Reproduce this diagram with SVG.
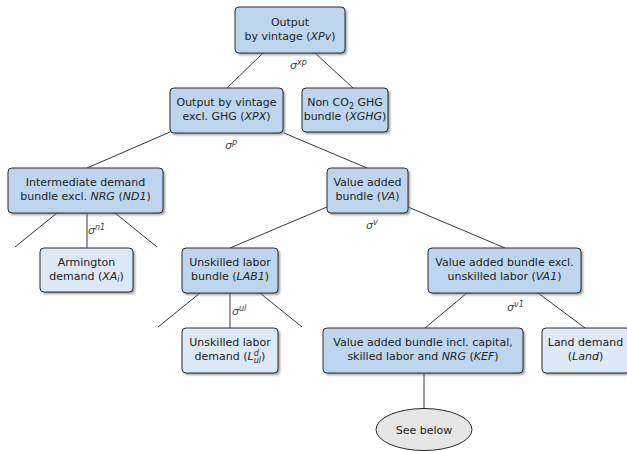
<svg xmlns="http://www.w3.org/2000/svg" width="627" height="451" viewBox="0 0 627 451">
  <defs>
    <filter id="soft" x="-10%" y="-10%" width="120%" height="130%">
      <feGaussianBlur stdDeviation="0.8"/>
    </filter>
    <style>
      .shadow { fill: #7a7a7a; opacity: 0.75; filter: url(#soft); }
      .nest { fill: #bdd6ee; stroke: #2b2b2b; stroke-width: 1; }
      .leaf { fill: #dde9f6; stroke: #2b2b2b; stroke-width: 1; }
      .oval { fill: #e6e6e6; stroke: #2b2b2b; stroke-width: 1; }
      .lbl { font-family: "DejaVu Sans", "Liberation Sans", sans-serif; font-size: 11px; fill: #222; text-anchor: middle; }
      .sig { font-family: "DejaVu Sans", "Liberation Sans", sans-serif; font-size: 11px; fill: #444; font-style: italic; }
      .sup { font-size: 8px; }
      .it { font-style: italic; }
      .edge { stroke: #222; stroke-width: 0.9; fill: none; }
    </style>
  </defs>

  <!-- tree edges, drawn beneath the boxes -->
  <g id="connectors" class="edge">
    <line x1="263" y1="53" x2="227" y2="88"/>
    <line x1="315" y1="53" x2="353" y2="88"/>
    <line x1="170" y1="132" x2="87" y2="168"/>
    <line x1="284" y1="133" x2="367" y2="168"/>
    <line x1="57" y1="213" x2="15" y2="247"/>
    <line x1="87" y1="213" x2="87" y2="248"/>
    <line x1="115" y1="213" x2="157" y2="247"/>
    <line x1="327" y1="207" x2="230" y2="248"/>
    <line x1="408" y1="207" x2="505" y2="248"/>
    <line x1="200" y1="293" x2="158" y2="327"/>
    <line x1="230" y1="293" x2="230" y2="328"/>
    <line x1="260" y1="293" x2="302" y2="327"/>
    <line x1="467" y1="293" x2="425" y2="328"/>
    <line x1="538" y1="293" x2="585" y2="328"/>
    <line x1="424" y1="373" x2="424" y2="408"/>
  </g>

  <!-- elasticities of substitution -->
  <g id="elasticities">
    <text class="sig" x="290" y="69">σ<tspan class="sup" dy="-4.5">xp</tspan></text>
    <text class="sig" x="225" y="149">σ<tspan class="sup" dy="-4.5">p</tspan></text>
    <text class="sig" x="88" y="234">σ<tspan class="sup" dy="-4.5">n1</tspan></text>
    <text class="sig" x="366" y="229">σ<tspan class="sup" dy="-4.5">v</tspan></text>
    <text class="sig" x="232" y="315">σ<tspan class="sup" dy="-4.5">ul</tspan></text>
    <text class="sig" x="507" y="311">σ<tspan class="sup" dy="-4.5">v1</tspan></text>
  </g>

  <g id="XPv">
    <rect class="shadow" x="237" y="9" width="110" height="46" rx="4"/>
    <rect class="nest" x="235" y="7" width="110" height="46" rx="4"/>
    <text class="lbl" x="290" y="26">Output</text>
    <text class="lbl" x="290" y="39.5">by vintage (<tspan class="it">XPv</tspan>)</text>
  </g>

  <g id="XPX">
    <rect class="shadow" x="172" y="90" width="113" height="45" rx="4"/>
    <rect class="nest" x="170" y="88" width="113" height="45" rx="4"/>
    <text class="lbl" x="226.5" y="106">Output by vintage</text>
    <text class="lbl" x="226.5" y="119.5">excl. GHG (<tspan class="it">XPX</tspan>)</text>
  </g>

  <g id="XGHG">
    <rect class="shadow" x="304" y="90" width="86" height="44" rx="4"/>
    <rect class="nest" x="302" y="88" width="86" height="44" rx="4"/>
    <text class="lbl" x="345" y="106">Non CO<tspan font-size="8" dy="3">2</tspan><tspan dy="-3"> GHG</tspan></text>
    <text class="lbl" x="345" y="119.5">bundle (<tspan class="it">XGHG</tspan>)</text>
  </g>

  <g id="ND1">
    <rect class="shadow" x="10" y="170" width="155" height="45" rx="4"/>
    <rect class="nest" x="8" y="168" width="155" height="45" rx="4"/>
    <text class="lbl" x="85.5" y="186">Intermediate demand</text>
    <text class="lbl" x="85.5" y="199.5">bundle excl. <tspan class="it">NRG</tspan> (<tspan class="it">ND1</tspan>)</text>
  </g>

  <g id="VA">
    <rect class="shadow" x="329" y="170" width="81" height="45" rx="4"/>
    <rect class="nest" x="327" y="168" width="81" height="45" rx="4"/>
    <text class="lbl" x="367.5" y="186">Value added</text>
    <text class="lbl" x="367.5" y="199.5">bundle (<tspan class="it">VA</tspan>)</text>
  </g>

  <g id="XA">
    <rect class="shadow" x="42" y="250" width="93" height="44" rx="4"/>
    <rect class="leaf" x="40" y="248" width="93" height="44" rx="4"/>
    <text class="lbl" x="86.5" y="266">Armington</text>
    <text class="lbl" x="86.5" y="279.5">demand (<tspan class="it">XA<tspan font-size="8" dy="2.5">i</tspan></tspan><tspan dy="-2.5">)</tspan></text>
  </g>

  <g id="LAB1">
    <rect class="shadow" x="184" y="250" width="96" height="45" rx="4"/>
    <rect class="nest" x="182" y="248" width="96" height="45" rx="4"/>
    <text class="lbl" x="230" y="266">Unskilled labor</text>
    <text class="lbl" x="230" y="279.5">bundle (<tspan class="it">LAB1</tspan>)</text>
  </g>

  <g id="VA1">
    <rect class="shadow" x="430" y="250" width="153" height="45" rx="4"/>
    <rect class="nest" x="428" y="248" width="153" height="45" rx="4"/>
    <text class="lbl" x="504.5" y="266">Value added bundle excl.</text>
    <text class="lbl" x="504.5" y="279.5">unskilled labor (<tspan class="it">VA1</tspan>)</text>
  </g>

  <g id="Lul">
    <rect class="shadow" x="184" y="330" width="96" height="45" rx="4"/>
    <rect class="leaf" x="182" y="328" width="96" height="45" rx="4"/>
    <text class="lbl" x="230" y="346">Unskilled labor</text>
    <text class="lbl" x="230" y="360">demand (<tspan class="it">L</tspan><tspan class="it" font-size="8" dy="-4.5">d</tspan><tspan class="it" font-size="8" dx="-5" dy="7.5">ul</tspan><tspan dy="-3">)</tspan></text>
  </g>

  <g id="KEF">
    <rect class="shadow" x="325" y="330" width="200" height="45" rx="4"/>
    <rect class="nest" x="323" y="328" width="200" height="45" rx="4"/>
    <text class="lbl" x="423" y="346">Value added bundle incl. capital,</text>
    <text class="lbl" x="423" y="359.5">skilled labor and <tspan class="it">NRG</tspan> (<tspan class="it">KEF</tspan>)</text>
  </g>

  <g id="Land">
    <rect class="shadow" x="544" y="330" width="88" height="45" rx="4"/>
    <rect class="leaf" x="542" y="328" width="88" height="45" rx="4"/>
    <text class="lbl" x="585.5" y="346">Land demand</text>
    <text class="lbl" x="585.5" y="359.5">(<tspan class="it">Land</tspan>)</text>
  </g>

  <g id="seeBelow">
    <ellipse class="oval" cx="424" cy="429.5" rx="48" ry="21"/>
    <text class="lbl" x="424" y="433.5">See below</text>
  </g>
</svg>
